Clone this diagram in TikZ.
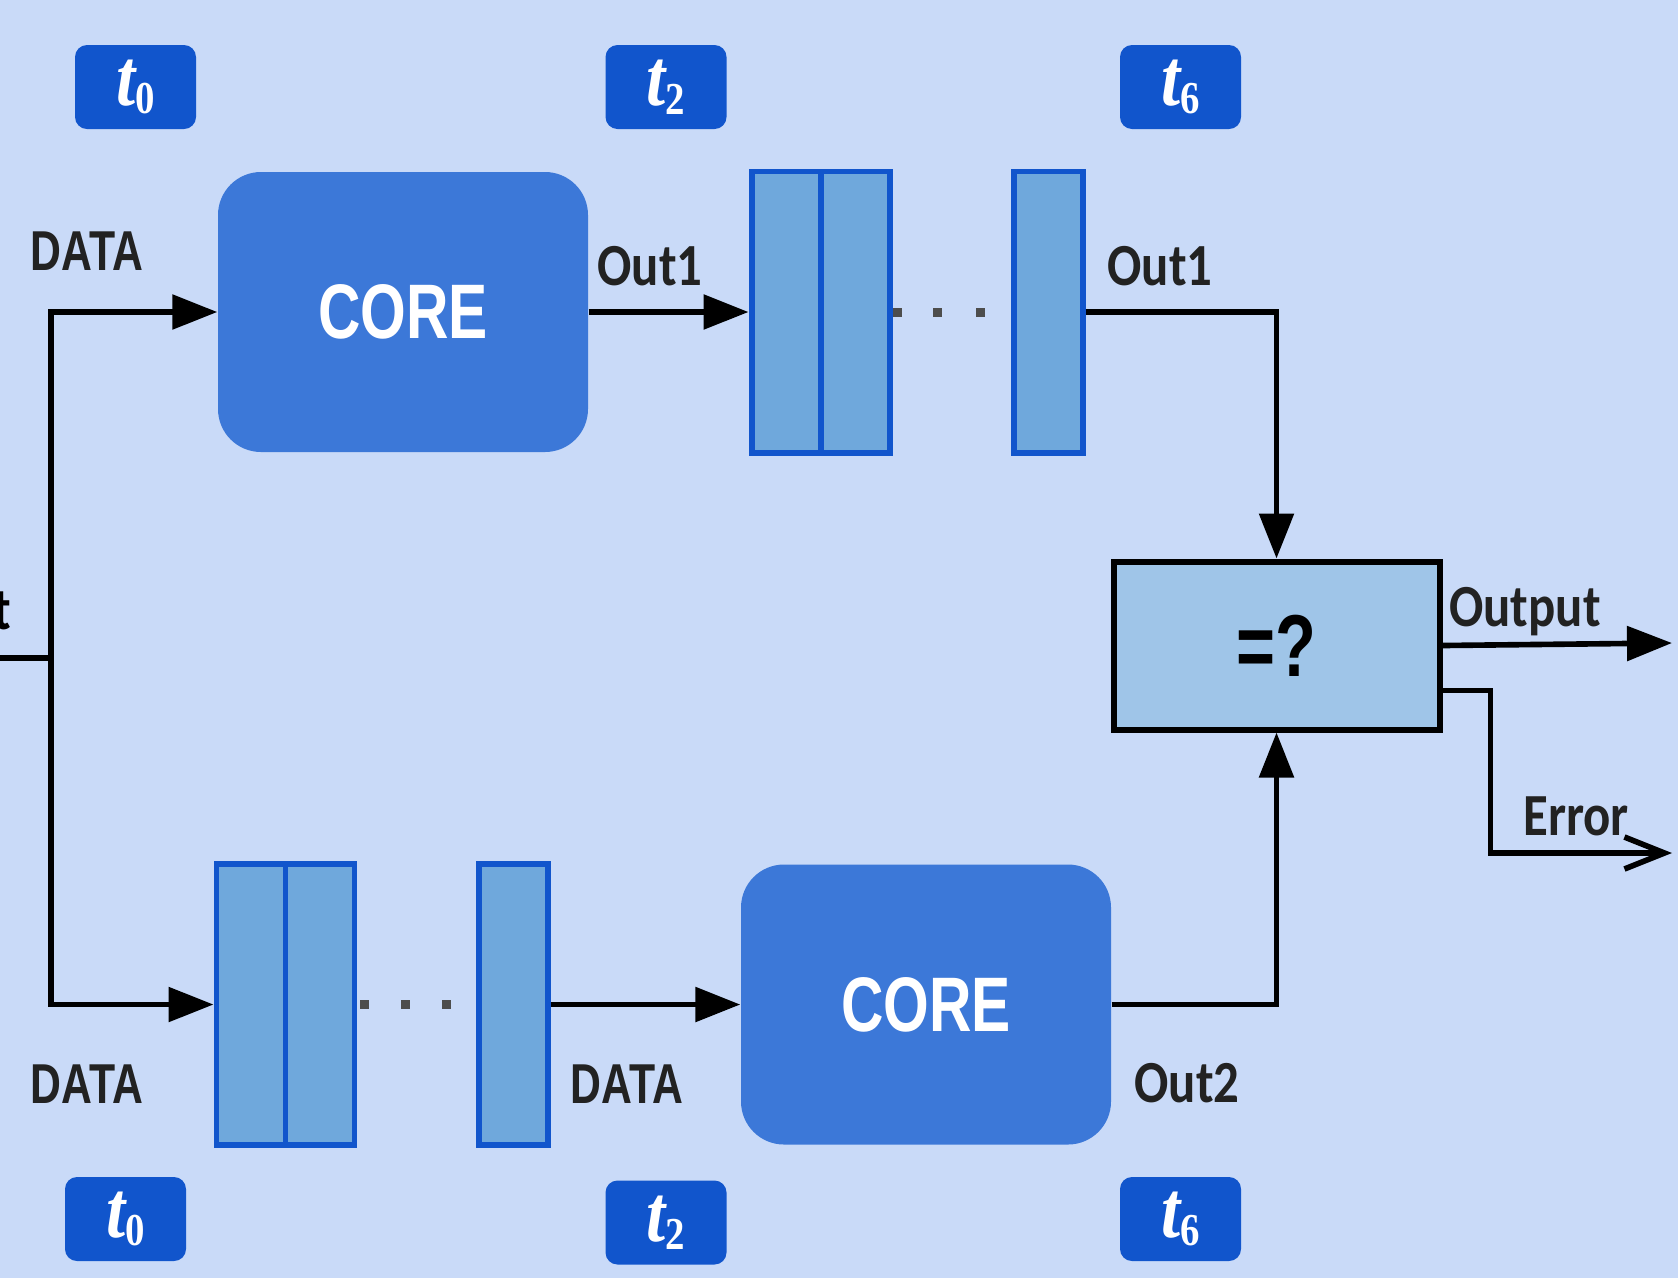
\documentclass[tikz,border=0pt]{standalone}
\usepackage{fontspec}
\setmainfont{Liberation Sans}
\newfontfamily\narrowsans[FakeStretch=0.76]{Liberation Sans}
\newfontfamily\narrowlbl[FakeStretch=0.85]{Carlito}
\newfontfamily\tagserif[FakeStretch=0.85]{Liberation Serif}
\usepackage{tikz}
\usetikzlibrary{arrows.meta,positioning,calc}
\definecolor{qbg}{HTML}{C9DAF8}
\definecolor{qcore}{HTML}{3C78D8}
\definecolor{qreg}{HTML}{6FA8DC}
\definecolor{qregline}{HTML}{1155CC}
\definecolor{qcmp}{HTML}{9FC5E8}
\definecolor{qtag}{HTML}{1155CC}
\definecolor{qtxt}{HTML}{222222}
\definecolor{qdots}{HTML}{4D4D4D}
\newcommand{\tlab}[1]{{\tagserif\bfseries\itshape t}\raisebox{-0.2ex}{\tagserif\bfseries\fontsize{13}{13}\selectfont #1}}

\begin{document}
\begin{tikzpicture}[
  core/.style={fill=qcore,rounded corners=4.3mm,minimum width=37mm,minimum height=28mm,text=white,font=\narrowsans\fontsize{22}{22}\selectfont\bfseries},
  reg/.style={draw=qregline,fill=qreg,line width=1.7pt,minimum width=6.9mm,minimum height=28.1mm,inner sep=0pt},
  cmpbox/.style={draw=black,fill=qcmp,line width=1.7pt,minimum width=32.6mm,minimum height=16.8mm,font=\narrowsans\fontsize{25}{25}\selectfont\bfseries},
  tag/.style={fill=qtag,rounded corners=1.2mm,minimum width=12.1mm,minimum height=8.4mm,inner sep=0pt,text=white,font=\fontsize{23}{23}\selectfont},
  lbl/.style={text=qtxt,font=\narrowlbl\fontsize{17}{17}\selectfont\bfseries},
  dlbl/.style={text=qtxt,font=\narrowsans\fontsize{16}{16}\selectfont\bfseries},
  arr/.style={-{Triangle[length=4.5mm,width=3.4mm]},line width=1.6pt},
  barb/.style={-{Straight Barb[length=4mm,width=3.2mm]},line width=1.6pt}]
\fill[qbg] (0,0) rectangle (16.78,-12.78);
\useasboundingbox (0,0) rectangle (16.78,-12.78);

% time stamps
\node[tag] (tt0) at (1.355,-0.87)  {\tlab{0}};
\node[tag] (tt2) at (6.66,-0.87)   {\tlab{2}};
\node[tag] (tt6) at (11.805,-0.87) {\tlab{6}};
\node[tag] (bt0) at (1.255,-12.19) {\tlab{0}};
\node[tag] (bt2) at (6.66,-12.225) {\tlab{2}};
\node[tag] (bt6) at (11.805,-12.19) {\tlab{6}};

% upper path
\node[core] (core1) at (4.03,-3.12) {CORE};
\node[reg] (reg1a) at (7.86,-3.12) {};
\node[reg,right=-1.7pt of reg1a] (reg1b) {};
\node[reg] (reg1c) at (10.48,-3.12) {};

% lower path
\node[reg] (reg2a) at (2.51,-10.045) {};
\node[reg,right=-1.7pt of reg2a] (reg2b) {};
\node[reg] (reg2c) at (5.135,-10.045) {};
\node[core] (core2) at (9.26,-10.045) {CORE};

\node[cmpbox] (cmp) at (12.765,-6.455) {=?};

\foreach \x in {8.97,9.37,9.80} \fill[qdots] (\x-0.045,-3.165) rectangle ++(0.09,0.09);
\foreach \x in {3.64,4.05,4.46} \fill[qdots] (\x-0.045,-10.09) rectangle ++(0.09,0.09);

\coordinate (split) at (0.51,-6.58);
\coordinate (inL) at (-0.3,-6.58);
\coordinate (outE) at (16.72,-6.43);
\coordinate (errE) at (16.72,-8.53);

\draw[line width=1.6pt] (inL) -- (split);
\draw[arr] (split) |- (core1.west);
\draw[arr] (split) |- (reg2a.west);
\draw[arr] (core1) -- (reg1a);
\draw[arr] (reg2c) -- (core2);
\draw[arr] (reg1c.east) -| (cmp.north);
\draw[arr] (core2.east) -| (cmp.south);
\draw[arr] (cmp.east) -- (outE);
\draw[barb] ([yshift=-4.5mm]cmp.east) -- ++(0.48,0) |- (errE);

% labels
\node[lbl,text=black,anchor=east] (inlbl) at (0.23,-6.15) {Input};
\node[dlbl] (data1) at (0.87,-2.51) {DATA};
\node[dlbl] (data2) at (0.87,-10.84) {DATA};
\node[dlbl] (data3) at (6.27,-10.84) {DATA};
\node[lbl] (out1a) at (6.50,-2.66) {Out1};
\node[lbl] (out1b) at (11.60,-2.66) {Out1};
\node[lbl] (out2) at (11.87,-10.83) {Out2};
\node[lbl] (outlbl) at (15.25,-6.12) {Output};
\node[lbl] (errlbl) at (15.76,-8.16) {Error};
\end{tikzpicture}
\end{document}
